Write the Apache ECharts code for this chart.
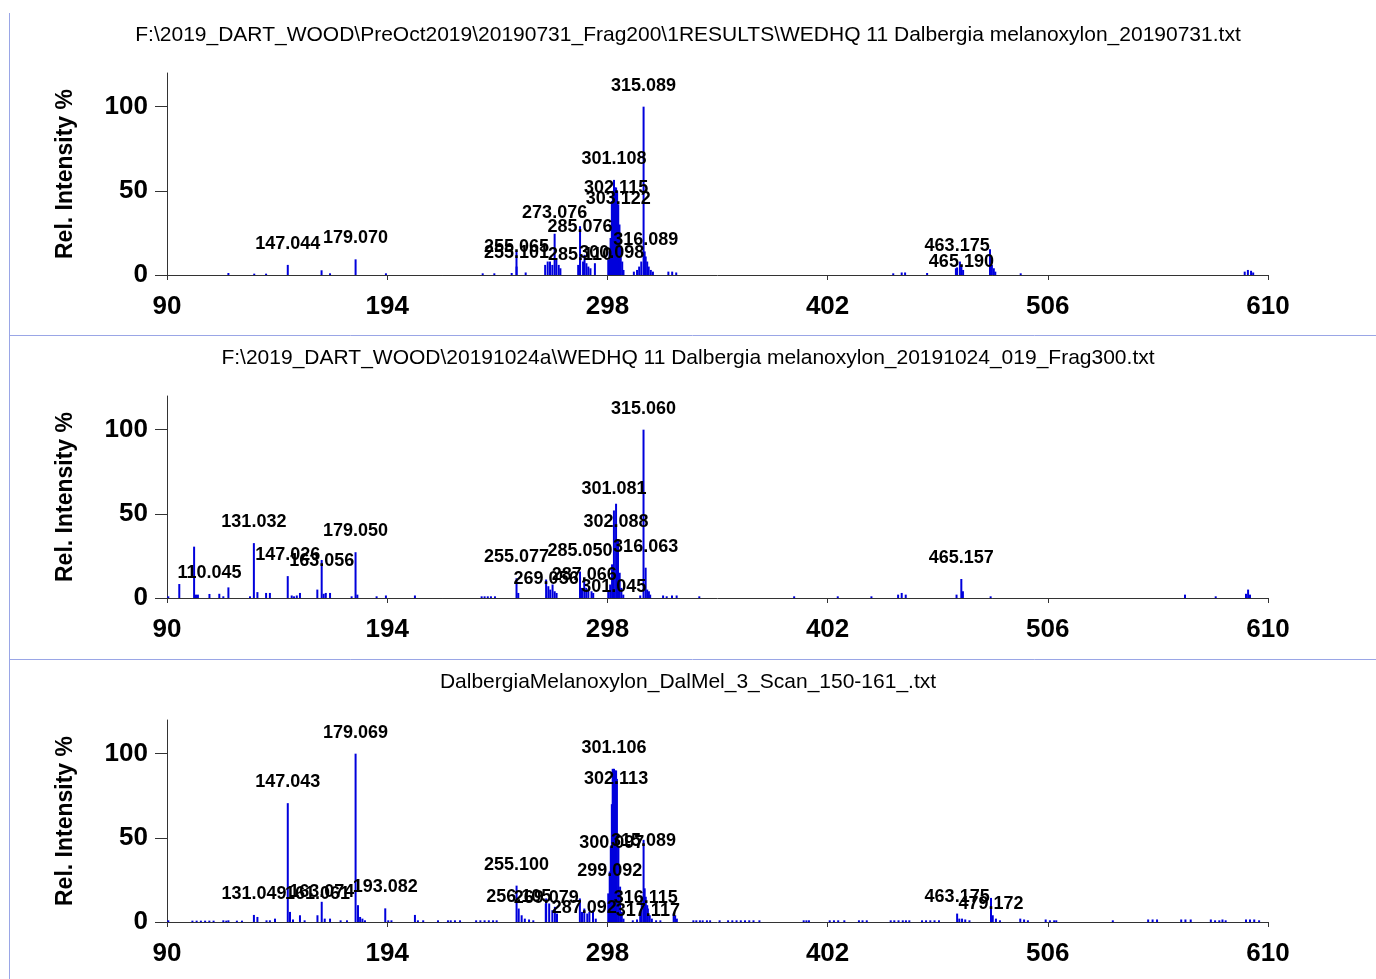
<!DOCTYPE html>
<html>
<head>
<meta charset="utf-8">
<title>Dalbergia melanoxylon spectra</title>
<script src="https://cdn.jsdelivr.net/npm/echarts@6/dist/echarts.min.js"></script>
<style>
  html, body { margin: 0; padding: 0; background: #fff; }
  #chart { width: 1376px; height: 979px; }
</style>
</head>
<body>
<div id="chart"></div>
<script>
// axis ticks
const xTicks = [90, 194, 298, 402, 506, 610]
const yTicks = [0, 50, 100]

const titles = [
  'F:\\2019_DART_WOOD\\PreOct2019\\20190731_Frag200\\1RESULTS\\WEDHQ 11 Dalbergia melanoxylon_20190731.txt',
  'F:\\2019_DART_WOOD\\20191024a\\WEDHQ 11 Dalbergia melanoxylon_20191024_019_Frag300.txt',
  'DalbergiaMelanoxylon_DalMel_3_Scan_150-161_.txt'
]

// [m/z, rel. intensity %]
const peaks1 = [
  [119.0, 1.2], [131.2, 0.8], [136.8, 0.8], [147.044, 6], [163.0, 2.8], [167.0, 1], [179.070, 9.3], [193.4, 1],
  [239.1, 1], [244.6, 1], [252.8, 1.2], [255.065, 14], [255.101, 5], [259.4, 1.5],
  [268.6, 6], [269.8, 8], [270.9, 8], [272.0, 6], [273.076, 24.5], [273.9, 10], [275.0, 6], [275.8, 4],
  [284.2, 6], [285.076, 29], [285.110, 10], [286.5, 8], [287.2, 12], [288.1, 7], [289.0, 5], [290.0, 4], [292.1, 7],
  [298.4, 9], [299.0, 14], [299.5, 22], [300.098, 44], [300.6, 50], [301.108, 56.5], [301.6, 52], [302.115, 52],
  [302.6, 50], [303.122, 42], [303.7, 30], [304.3, 17], [305.0, 8], [305.6, 3],
  [310.5, 2], [312.0, 3], [313.0, 5], [314.0, 8], [315.089, 100], [315.6, 14], [316.089, 11], [316.8, 8],
  [317.5, 5], [318.5, 3], [319.5, 2], [326.8, 2], [328.6, 2], [330.5, 1.5],
  [433.0, 1], [437.0, 1.5], [438.6, 1.5], [449.0, 1.2], [462.6, 4], [463.175, 4.5], [464.5, 8], [465.190, 6],
  [466.0, 3], [478.7, 15.3], [479.6, 6], [480.5, 4], [481.2, 2], [493.2, 1],
  [599.0, 2], [600.5, 3], [602.0, 2.5], [603.0, 1.5]
]
const labels1 = ['147.044', '179.070', '255.065', '255.101', '273.076', '285.076', '285.110', '300.098',
  '301.108', '302.115', '303.122', '315.089', '316.089', '463.175', '465.190']

const peaks2 = [
  [90.6, 1], [95.8, 8.3], [102.8, 30.5], [103.7, 2], [104.6, 2], [110.045, 2.4], [114.7, 2.5], [116.6, 1],
  [119.0, 6.3], [129.2, 1], [131.032, 32.6], [132.7, 3.5], [136.8, 3], [138.6, 3], [147.026, 13], [148.9, 1.5],
  [150.0, 1], [151.3, 1.5], [152.8, 3], [161.0, 5], [163.056, 22.6], [164.0, 2.5], [165.0, 3], [167.0, 3],
  [177.2, 1], [179.050, 27.2], [179.9, 2], [189.0, 1], [193.4, 1.5], [207.1, 1.5],
  [238.6, 1], [240.0, 1], [241.5, 1], [243.0, 1], [244.9, 1], [255.077, 11.7], [255.9, 3],
  [269.056, 11], [270.1, 7], [271.0, 5], [272.1, 8], [273.1, 4], [274.0, 3],
  [285.050, 15.7], [286.0, 6], [287.066, 10], [288.0, 6], [289.0, 5], [290.5, 4], [291.3, 3],
  [298.4, 4], [299.3, 8], [300.2, 20], [301.045, 5], [301.081, 52], [302.088, 56], [303.0, 35], [303.8, 15],
  [304.6, 6], [305.5, 2], [313.5, 1.5], [315.060, 100], [316.063, 18], [316.8, 5], [317.6, 4], [318.2, 2],
  [324.3, 1.5], [326.0, 1], [328.5, 1.5], [330.7, 1.5], [341.4, 1],
  [386.2, 1], [406.8, 1], [422.7, 1], [435.3, 2], [437.0, 3], [438.9, 2], [462.9, 2], [465.157, 11.3],
  [465.9, 4], [479.0, 1], [570.8, 2], [585.3, 1], [599.6, 2.5], [600.6, 5], [601.5, 2]
]
const labels2 = ['110.045', '131.032', '147.026', '163.056', '179.050', '255.077', '269.056', '285.050',
  '287.066', '301.045', '301.081', '302.088', '315.060', '316.063', '465.157']

const peaks3 = [
  [90.6, 1], [102, 0.8], [104, 0.8], [106, 0.8], [108, 0.8], [110, 0.8], [112, 0.8], [116.6, 1], [118, 0.8],
  [119, 1], [123, 0.8], [125.4, 0.8], [131.049, 4.2], [132.7, 3], [137, 1], [138.6, 1], [141, 2],
  [147.043, 70.6], [148.1, 6], [149.5, 1.5], [152.8, 4], [155, 1], [161.061, 4], [163.074, 12], [164.5, 2],
  [167, 2], [172, 1], [175, 1], [179.069, 100], [180.2, 10], [181.2, 3], [182.3, 2], [183.5, 1],
  [193.082, 8.1], [194.5, 1], [196, 1], [207.1, 4.2], [208.5, 1], [211, 1], [218, 1],
  [222.7, 1], [224, 1], [226, 1], [228.4, 1], [236, 1], [238, 1], [240, 1], [242, 1], [244, 1], [245.7, 1],
  [255.100, 21.6], [256.105, 8], [257.5, 4], [259, 2], [261, 1.5], [263, 1],
  [268.9, 11], [269.079, 14], [270.5, 11], [272, 7], [273.2, 9], [274.2, 5],
  [285.0, 14], [286, 6], [287.092, 8], [288.5, 5], [289.5, 6], [291.2, 7], [292.5, 2],
  [298.4, 17], [299.092, 30], [299.6, 45], [300.097, 70], [300.5, 91], [301.106, 91], [301.7, 90],
  [302.113, 90], [302.5, 85], [303.2, 45], [304.0, 21], [304.8, 6], [305.6, 2],
  [310, 1], [312, 1.5], [313.5, 6], [314.2, 15], [315.089, 48.8], [315.6, 20], [316.115, 15], [316.8, 10],
  [317.117, 8], [318, 4], [319, 2], [321, 1], [323, 1], [329.3, 5], [330, 4], [330.8, 2],
  [338.6, 1], [340, 1], [341.7, 1], [343, 1], [345, 1], [346.5, 1], [351, 1], [355, 1], [357, 1], [359, 1],
  [361, 1], [363, 1], [365, 1], [367, 1], [369.8, 1], [390.7, 1], [392, 1], [393.2, 1],
  [403, 1], [405, 1], [407, 1], [409.9, 1], [416.8, 1], [418.5, 1], [420.5, 1],
  [431.8, 1], [433.5, 1], [435.5, 1], [437.5, 1], [439, 1], [440.6, 1],
  [446.6, 1], [448.5, 1], [450.5, 1], [452.5, 1], [454.6, 1],
  [463.175, 5], [464.2, 2], [465.5, 2], [467, 1.5], [469, 1], [479.172, 14.3], [480, 4], [481.5, 2], [483.4, 1],
  [493, 2], [494.8, 1.5], [496.6, 1], [505, 1.5], [507, 1], [509, 1], [510, 1], [536.7, 1],
  [553.4, 1.5], [555.5, 1.5], [557.6, 1.5], [569, 1.5], [571, 1.5], [573.5, 1.5],
  [583, 1.5], [585, 1], [587, 1], [588.5, 1.5], [590, 1], [599.6, 1.5], [601.5, 1.5], [603.5, 1.5], [605.8, 1]
]
const labels3 = ['131.049', '147.043', '161.061', '163.074', '179.069', '193.082', '255.100', '256.105',
  '269.079', '287.092', '299.092', '300.097', '301.106', '302.113', '315.089', '316.115', '317.117',
  '463.175', '479.172']

// label pushes (px, downwards) where the original software stacked overlapping labels
const labelShift = [
  {'255.065': 17, '255.101': 7, '285.076': 22, '285.110': 18, '300.098': 73, '302.115': 22,
   '303.122': 16, '316.089': 5, '465.190': 18},
  {'269.056': 21, '287.066': 15, '301.045': 18, '302.088': 39, '163.056': 22},
  {'163.074': 11, '256.105': 9, '269.079': 21, '287.092': 20, '299.092': 21, '300.097': 60,
   '302.113': 30, '315.089': 22, '316.115': 22, '317.117': 23, '479.172': 27, '463.175': 4}
]

const panels = [
  {peaks: peaks1, labels: labels1},
  {peaks: peaks2, labels: labels2},
  {peaks: peaks3, labels: labels3}
]

const font = '"Liberation Sans", Arial, sans-serif'
const gridTops = [73, 396, 720]
const gridH = 202

const buildData = (peaks, labels, shift) => {
  return peaks.map(p => {
    const key = p[0].toFixed(3)
    if (labels.indexOf(key) < 0) return [p[0], p[1]]
    return {
      value: [p[0], p[1]],
      label: {
        show: true,
        position: 'top',
        distance: 12,
        formatter: key,
        color: '#000',
        fontSize: 18,
        fontWeight: 'bold',
        fontFamily: font,
        offset: [0, shift[key] || 0]
      }
    }
  })
}

const initChart = () => {
  const chart = echarts.init(document.getElementById('chart'))

  const grid = [], xAxis = [], yAxis = [], series = [], title = []
  panels.forEach((pn, i) => {
    grid.push({left: 167, width: 1101, top: gridTops[i], height: gridH})
    title.push({
      text: titles[i],
      left: 'center',
      top: gridTops[i] - 48,
      padding: 0,
      textStyle: {fontSize: 21, fontWeight: 'normal', color: '#000', fontFamily: font}
    })
    xAxis.push({
      type: 'value',
      gridIndex: i,
      min: 90,
      max: 610,
      axisLine: {lineStyle: {color: '#333', width: 1}},
      axisTick: {show: true, customValues: xTicks, length: 5, lineStyle: {color: '#333'}},
      axisLabel: {
        customValues: xTicks,
        margin: 19,
        color: '#000',
        fontSize: 26,
        fontWeight: 'bold',
        fontFamily: font
      },
      splitLine: {show: false}
    })
    yAxis.push({
      type: 'value',
      gridIndex: i,
      min: 0,
      max: 120,
      name: 'Rel. Intensity %',
      nameLocation: 'middle',
      nameGap: 90,
      nameTextStyle: {fontSize: 23, fontWeight: 'bold', color: '#000', fontFamily: font},
      axisLine: {show: true, lineStyle: {color: '#333', width: 1}},
      axisTick: {show: true, customValues: yTicks, length: 12, lineStyle: {color: '#333'}},
      axisLabel: {
        customValues: yTicks,
        margin: 19,
        color: '#000',
        fontSize: 26,
        fontWeight: 'bold',
        fontFamily: font
      },
      splitLine: {show: false}
    })
    series.push({
      type: 'bar',
      xAxisIndex: i,
      yAxisIndex: i,
      barWidth: 2,
      silent: true,
      itemStyle: {color: '#0000dc'},
      data: buildData(pn.peaks, pn.labels, labelShift[i])
    })
  })

  chart.setOption({
    animation: false,
    backgroundColor: '#fff',
    title: title,
    grid: grid,
    xAxis: xAxis,
    yAxis: yAxis,
    series: series,
    graphic: [
      {type: 'line', shape: {x1: 9.5, y1: 13, x2: 9.5, y2: 979}, style: {stroke: '#9aa6e6', lineWidth: 1}},
      {type: 'line', shape: {x1: 9, y1: 335.5, x2: 1376, y2: 335.5}, style: {stroke: '#9aa6e6', lineWidth: 1}},
      {type: 'line', shape: {x1: 9, y1: 659.5, x2: 1376, y2: 659.5}, style: {stroke: '#9aa6e6', lineWidth: 1}}
    ]
  })
  window.onresize = function () {
    chart.resize()
  }
}

initChart()
</script>
</body>
</html>
